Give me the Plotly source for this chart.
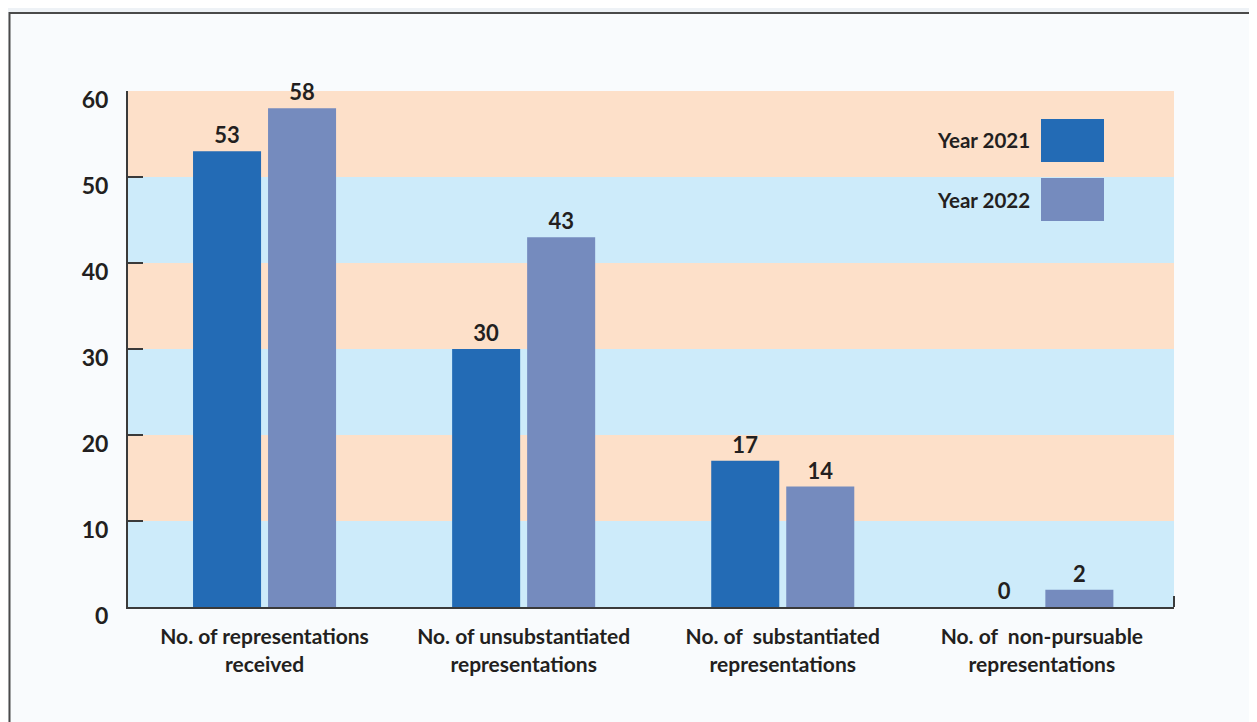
import plotly.graph_objects as go

categories = ["No. of representations<br>received",
              "No. of unsubstantiated<br>representations",
              "No. of  substantiated<br>representations",
              "No. of  non-pursuable<br>representations"]
series_names = ["Year 2021", "Year 2022"]
values_2021 = [53, 30, 17, 0]
values_2022 = [58, 43, 14, 2]
y_ticks = [0, 10, 20, 30, 40, 50, 60]

W, H = 1257, 722
OFF = 8  # page body offset
ML, MR, MT, MB = 128, 83, 91, 115
ml, mr, mt, mb = ML - OFF, MR + OFF, MT - OFF, MB + OFF
PW, PH = W - ML - MR, H - MT - MB

def px_x(p):
    return (p - ML) / PW

def px_y(p):
    return (H - MB - p) / PH

C1 = "#236BB5"
C2 = "#758BBE"
PEACH = "#FDE0C9"
BLUE = "#CDEBFA"
TXT = "#231F20"
FONT = "Lato"

fig = go.Figure()
idx = list(range(len(categories)))
for name, vals, col in [(series_names[0], values_2021, C1), (series_names[1], values_2022, C2)]:
    fig.add_trace(go.Bar(
        x=idx, y=vals, name=name, marker=dict(color=col, line=dict(width=0)),
        text=[str(v) for v in vals], textposition="outside",
        textfont=dict(family=FONT, size=22, color=TXT, weight=700),
        cliponaxis=False, showlegend=False,
    ))

shapes = []
shapes.append(dict(type="rect", xref="paper", yref="paper",
                   x0=px_x(9.5), x1=px_x(W + 40), y0=px_y(H + 40), y1=px_y(13),
                   fillcolor="#F9FBFD", line=dict(color="#4A4A4A", width=2), layer="below"))
for i in range(len(y_ticks) - 1):
    shapes.append(dict(type="rect", xref="paper", yref="y", x0=0, x1=1,
                       y0=y_ticks[i], y1=y_ticks[i + 1],
                       fillcolor=BLUE if i % 2 == 0 else PEACH,
                       line=dict(width=0), layer="below"))
shapes.append(dict(type="line", xref="paper", yref="paper", x0=1, x1=1,
                   y0=0, y1=px_y(H - MB - 11), line=dict(color="#3A3A3A", width=2)))

annotations = []
leg_y = [(119, 162), (178, 221)]
for (name, col), (ya, yb) in zip([(series_names[0], C1), (series_names[1], C2)], leg_y):
    shapes.append(dict(type="rect", xref="paper", yref="paper",
                       x0=px_x(1041), x1=px_x(1104), y0=px_y(yb), y1=px_y(ya),
                       fillcolor=col, line=dict(width=0)))
    annotations.append(dict(xref="paper", yref="paper", x=px_x(1032), y=px_y((ya + yb) / 2),
                            text=name, showarrow=False, xanchor="right", yanchor="middle",
                            font=dict(family=FONT, size=20.5, color=TXT, weight=700)))

fig.update_layout(
    width=W, height=H,
    margin=dict(l=ml, r=mr, t=mt, b=mb, pad=0),
    paper_bgcolor="#EEF2F6", plot_bgcolor="rgba(0,0,0,0)",
    barmode="group", bargap=0.421, bargroupgap=0.093,
    shapes=shapes, annotations=annotations,
    font=dict(family=FONT, color=TXT),
    xaxis=dict(range=[-0.527, 3.51], tickvals=idx, ticktext=categories,
               showline=True, linecolor="#3A3A3A", linewidth=2, ticks="",
               showgrid=False, zeroline=False, ticklabelstandoff=10,
               tickfont=dict(family=FONT, size=21, color=TXT, weight=700)),
    yaxis=dict(range=[0, 60], tickvals=y_ticks, showline=True, linecolor="#3A3A3A",
               linewidth=2, ticks="inside", ticklen=15, tickwidth=2, tickcolor="#3A3A3A",
               showgrid=False, zeroline=False, ticklabelshift=9, ticklabelstandoff=13,
               tickfont=dict(family=FONT, size=23, color=TXT, weight=700)),
)

fig.write_html("out.html")
